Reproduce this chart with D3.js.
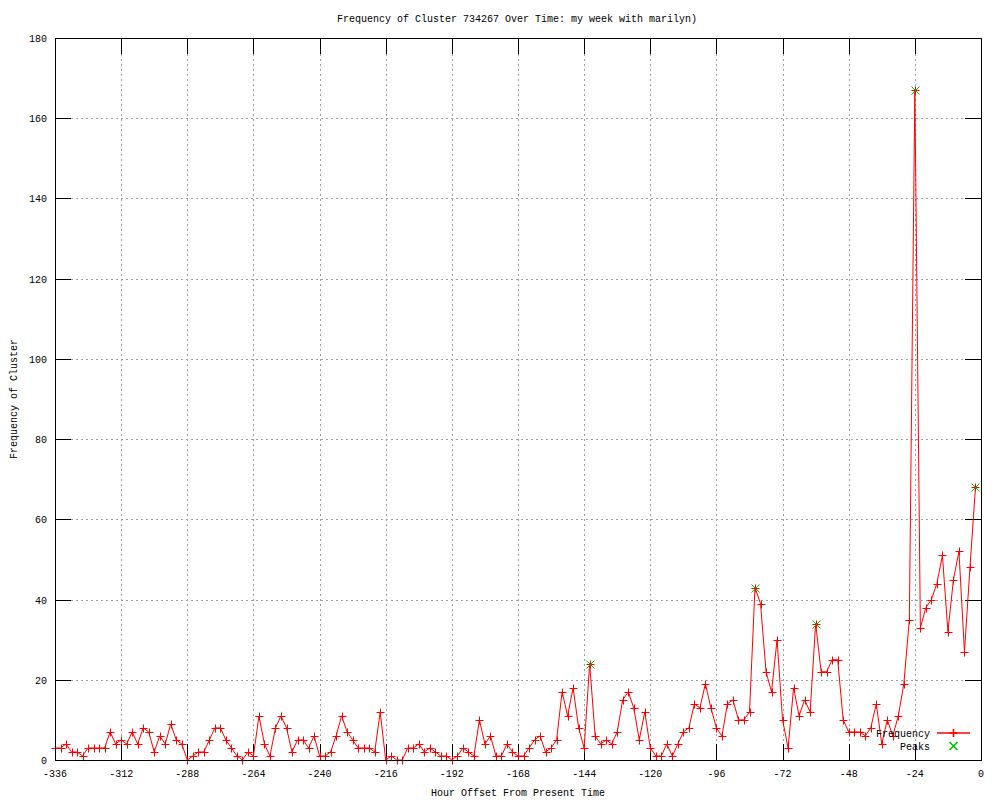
<!DOCTYPE html>
<html>
<head>
<meta charset="utf-8">
<script src="https://cdn.jsdelivr.net/npm/d3@7"></script>
<style>
  body { margin: 0; background: #fff; }
  text { font-family: "Liberation Mono", "DejaVu Sans Mono", monospace; font-size: 10px; fill: #000; }
</style>
</head>
<body>
<div id="chart"></div>
<script>
// hour offsets sampled every 2 hours, -336 .. -2
const hours = d3.range(-336, 0, 2);

// cluster frequency per 2h bucket
const frequency = [
    3, 3, 4, 2, 2, 1, 3, 3, 3, 3,
    7, 4, 5, 4, 7, 4, 8, 7, 2, 6,
    4, 9, 5, 4, 0, 1, 2, 2, 5, 8,
    8, 5, 3, 1, 0, 2, 1, 11, 4, 1,
    8, 11, 8, 2, 5, 5, 3, 6, 1, 1,
    2, 6, 11, 7, 5, 3, 3, 3, 2, 12,
    0, 1, 0, 0, 3, 3, 4, 2, 3, 2,
    1, 1, 0, 1, 3, 2, 1, 10, 4, 6,
    1, 1, 4, 2, 1, 1, 3, 5, 6, 2,
    3, 5, 17, 11, 18, 8, 3, 24, 6, 4,
    5, 4, 7, 15, 17, 13, 5, 12, 3, 1,
    1, 4, 1, 4, 7, 8, 14, 13, 19, 13,
    8, 6, 14, 15, 10, 10, 12, 43, 39, 22,
    17, 30, 10, 3, 18, 11, 15, 12, 34, 22,
    22, 25, 25, 10, 7, 7, 7, 6, 8, 14,
    4, 10, 6, 11, 19, 35, 167, 33, 38, 40,
    44, 51, 32, 45, 52, 27, 48, 68
];

const peakHours = [-142, -82, -60, -24, -2];
const peakValues = [24, 43, 34, 167, 68];

const seriesNames = ["Frequency", "Peaks"];

const xTicks = d3.range(-336, 1, 24);
const yTicks = d3.range(0, 181, 20);

const W = 1000, H = 800;
const margin = {top: 38, right: 19, bottom: 40, left: 55};
const innerW = W - margin.left - margin.right;
const innerH = H - margin.top - margin.bottom;

const svg = d3.select("#chart").append("svg")
    .attr("width", W)
    .attr("height", H);

const x = d3.scaleLinear().domain([-336, 0]).range([margin.left, margin.left + innerW]);
const y = d3.scaleLinear().domain([0, 180]).range([margin.top + innerH, margin.top]);

const tickLen = 16;
const colors = {Frequency: "rgb(255,0,0)", Peaks: "rgb(0,192,0)"};

// grid
const grid = svg.append("g").attr("class", "grid")
    .style("stroke", "#a0a0a0")
    .style("stroke-width", 1)
    .style("stroke-dasharray", "2,3")
    .attr("shape-rendering", "crispEdges");

grid.selectAll(".gx")
    .data(xTicks.filter(d => d > -336 && d < 0))
    .enter().append("line")
    .attr("x1", d => Math.round(x(d)) + 0.5).attr("x2", d => Math.round(x(d)) + 0.5)
    .attr("y1", y(180) + tickLen).attr("y2", y(0) - tickLen);

grid.selectAll(".gy")
    .data(yTicks.filter(d => d > 0 && d < 180))
    .enter().append("line")
    .attr("y1", d => Math.round(y(d)) + 0.5).attr("y2", d => Math.round(y(d)) + 0.5)
    .attr("x1", x(-336) + tickLen).attr("x2", x(0) - tickLen);

// ticks on all four sides (mirrored, pointing inward)
const ticks = svg.append("g")
    .style("stroke", "#000")
    .style("stroke-width", 1)
    .attr("shape-rendering", "crispEdges");

xTicks.forEach(d => {
    const px = Math.round(x(d)) + 0.5;
    ticks.append("line").attr("x1", px).attr("x2", px).attr("y1", y(0)).attr("y2", y(0) - tickLen);
    ticks.append("line").attr("x1", px).attr("x2", px).attr("y1", y(180)).attr("y2", y(180) + tickLen);
});
yTicks.forEach(d => {
    const py = Math.round(y(d)) + 0.5;
    ticks.append("line").attr("y1", py).attr("y2", py).attr("x1", x(-336)).attr("x2", x(-336) + tickLen);
    ticks.append("line").attr("y1", py).attr("y2", py).attr("x1", x(0)).attr("x2", x(0) - tickLen);
});

// tick labels
svg.append("g").selectAll("text")
    .data(xTicks)
    .enter().append("text")
    .attr("x", d => x(d))
    .attr("y", y(0) + 17)
    .attr("text-anchor", "middle")
    .text(d => d);

svg.append("g").selectAll("text")
    .data(yTicks)
    .enter().append("text")
    .attr("x", x(-336) - 8)
    .attr("y", d => y(d) + 4)
    .attr("text-anchor", "end")
    .text(d => d);

// data line
const pts = hours.map((h, i) => [h, frequency[i]]);

svg.append("path")
    .datum(pts)
    .style("fill", "none")
    .style("stroke", colors.Frequency)
    .style("stroke-width", 1)
    .attr("d", d3.line().x(d => x(d[0])).y(d => y(d[1])));

const plus = "M-4,0H4M0,-4V4";
const cross = "M-4,-4L4,4M-4,4L4,-4";

svg.append("g").selectAll("path")
    .data(pts)
    .enter().append("path")
    .attr("transform", d => `translate(${Math.round(x(d[0])) + 0.5},${Math.round(y(d[1])) + 0.5})`)
    .attr("d", plus)
    .style("stroke", colors.Frequency)
    .style("stroke-width", 1)
    .style("fill", "none");

// peaks
svg.append("g").selectAll("path")
    .data(peakHours.map((h, i) => [h, peakValues[i]]))
    .enter().append("path")
    .attr("transform", d => `translate(${Math.round(x(d[0])) + 0.5},${Math.round(y(d[1])) + 0.5})`)
    .attr("d", cross)
    .style("stroke", colors.Peaks)
    .style("stroke-width", 1)
    .style("fill", "none");

// frame
svg.append("rect")
    .attr("x", x(-336) + 0.5)
    .attr("y", y(180) + 0.5)
    .attr("width", x(0) - x(-336))
    .attr("height", y(0) - y(180))
    .style("fill", "none")
    .style("stroke", "#000")
    .style("stroke-width", 1)
    .attr("shape-rendering", "crispEdges");

// legend (gnuplot style key, bottom right, no box)
const key = svg.append("g").attr("class", "key")
    .selectAll("g")
    .data(seriesNames)
    .enter().append("g")
    .attr("transform", (d, i) => `translate(0,${733 + i * 13})`);

key.append("text")
    .attr("x", 930).attr("y", 4)
    .attr("text-anchor", "end")
    .text(d => d);

key.filter(d => d === "Frequency").append("path")
    .attr("d", "M937,0H970")
    .style("stroke", d => colors[d]).style("stroke-width", 1.6).style("fill", "none");

key.append("path")
    .attr("transform", "translate(953.5,0)")
    .attr("d", d => d === "Frequency" ? plus : cross)
    .style("stroke", d => colors[d]).style("stroke-width", 1.6).style("fill", "none");

// titles
svg.append("text")
    .attr("x", 517).attr("y", 22)
    .attr("text-anchor", "middle")
    .text("Frequency of Cluster 734267 Over Time: my week with marilyn)");

svg.append("text")
    .attr("x", 518).attr("y", 796)
    .attr("text-anchor", "middle")
    .text("Hour Offset From Present Time");

svg.append("text")
    .attr("transform", "translate(17,399) rotate(-90)")
    .attr("text-anchor", "middle")
    .text("Frequency of Cluster");
</script>
</body>
</html>
